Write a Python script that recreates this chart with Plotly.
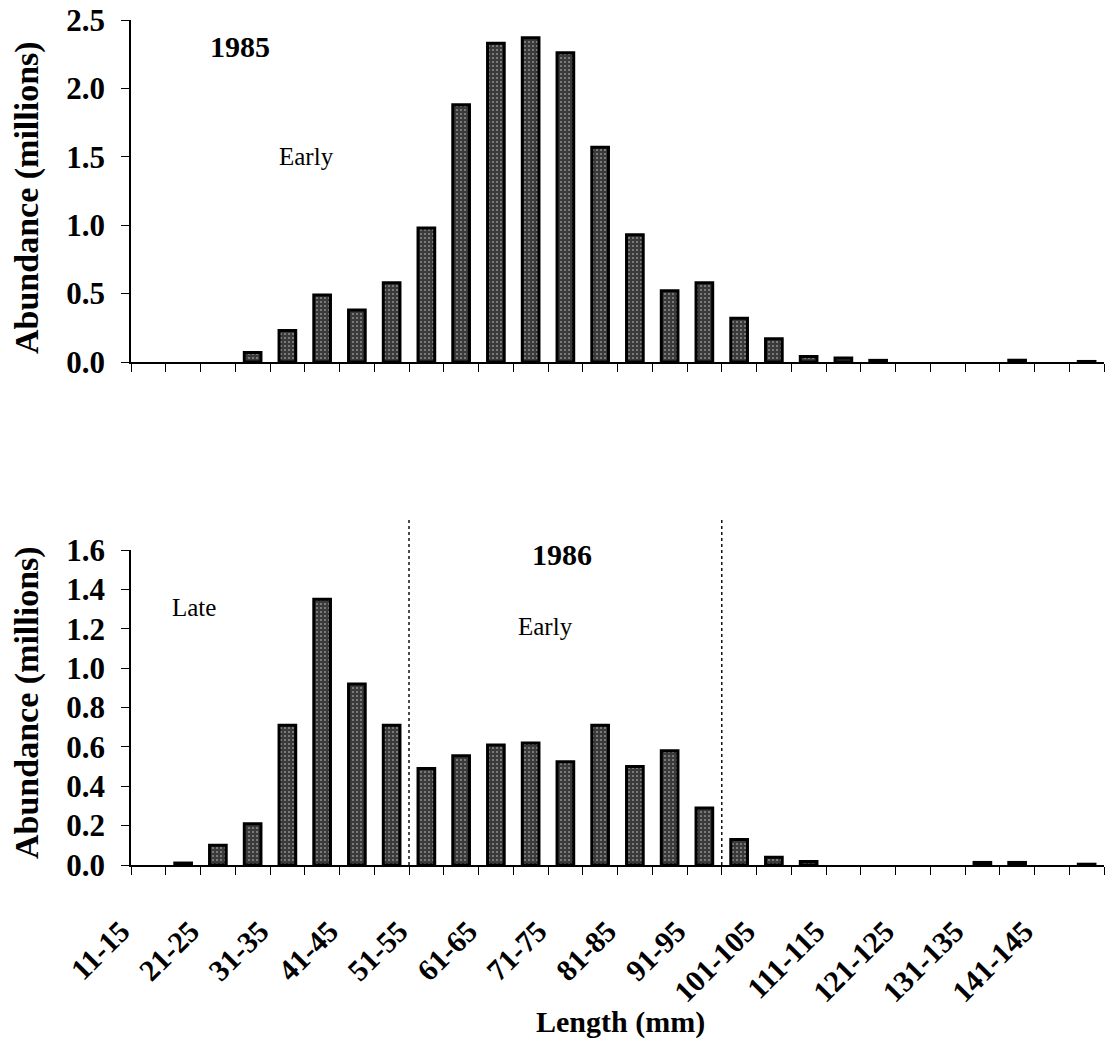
import plotly.graph_objects as go

# ---------------- data ----------------
categories = ["11-15", "16-20", "21-25", "26-30", "31-35", "36-40", "41-45", "46-50",
              "51-55", "56-60", "61-65", "66-70", "71-75", "76-80", "81-85", "86-90",
              "91-95", "96-100", "101-105", "106-110", "111-115", "116-120", "121-125",
              "126-130", "131-135", "136-140", "141-145", "146-150"]

abundance_1985 = [0.0, 0.0, 0.0, 0.07, 0.23, 0.49, 0.38, 0.58, 0.98, 1.88, 2.33, 2.37,
                  2.26, 1.57, 0.93, 0.52, 0.58, 0.32, 0.17, 0.04, 0.03, 0.012, 0.0,
                  0.0, 0.0, 0.013, 0.0, 0.004]

abundance_1986 = [0.0, 0.01, 0.10, 0.21, 0.71, 1.35, 0.92, 0.71, 0.49, 0.555, 0.61, 0.62,
                  0.525, 0.71, 0.50, 0.58, 0.29, 0.13, 0.04, 0.018, 0.0, 0.0, 0.0,
                  0.0, 0.013, 0.013, 0.0, 0.004]

y_ticks_1985 = [0.0, 0.5, 1.0, 1.5, 2.0, 2.5]
y_ticks_1986 = [0.0, 0.2, 0.4, 0.6, 0.8, 1.0, 1.2, 1.4, 1.6]

# cohort boundaries in 1986 (between 46-50 / 51-55 and 91-95 / 96-100)
divider_after = ["46-50", "91-95"]

# ---------------- layout geometry ----------------
W, H = 1105, 1055
L, R, T, B = 131, 1104, 20, 865   # plot area in pixels


def px(xp):
    return (xp - L) / (R - L)


def py(yp):
    return (B - yp) / (B - T)


SERIF = "Liberation Serif, Times New Roman, serif"
idx = list(range(len(categories)))
tickvals = [i - 0.5 for i in range(len(categories) + 1)]
ticktext = [categories[i] if (i < len(categories) and i % 2 == 0) else "" for i in range(len(categories) + 1)]


def bar_style(values):
    return dict(
        color="#3a3a3a",
        line=dict(color="black", width=[3 if v > 0 else 0 for v in values]),
        pattern=dict(shape=".", fgcolor="#d6d6d6", bgcolor="#3a3a3a", size=4, solidity=0.22),
    )


fig = go.Figure()
fig.add_trace(go.Bar(x=idx, y=abundance_1985, width=0.48, marker=bar_style(abundance_1985),
                     customdata=categories, hovertemplate="%{customdata}: %{y}<extra>1985</extra>",
                     xaxis="x", yaxis="y"))
fig.add_trace(go.Bar(x=idx, y=abundance_1986, width=0.48, marker=bar_style(abundance_1986),
                     customdata=categories, hovertemplate="%{customdata}: %{y}<extra>1986</extra>",
                     xaxis="x2", yaxis="y2"))

axis_common = dict(showline=True, linecolor="black", linewidth=1.5, ticks="outside",
                   ticklen=8, tickcolor="black", tickwidth=1, showgrid=False, zeroline=False)

top_domain = [py(362), 1.0]
bot_domain = [0.0, py(550)]

fig.update_layout(
    width=W, height=H,
    margin=dict(l=L, r=W - R, t=T, b=H - B, pad=0),
    paper_bgcolor="white", plot_bgcolor="white",
    showlegend=False, barmode="overlay",
    xaxis=dict(domain=[0, 1], anchor="y", range=[-0.5, len(categories) - 0.5],
               tickmode="array", tickvals=tickvals, ticktext=[""] * len(tickvals),
               showticklabels=False, **axis_common),
    yaxis=dict(domain=top_domain, anchor="x", range=[0, 2.5], tickmode="array",
               tickvals=y_ticks_1985, tickformat=".1f", ticklabelstandoff=10,
               tickfont=dict(family=SERIF, size=31, color="black", weight="bold"),
               **axis_common),
    xaxis2=dict(domain=[0, 1], anchor="y2", range=[-0.5, len(categories) - 0.5],
                tickmode="array", tickvals=tickvals, ticktext=ticktext, tickangle=-45,
                ticklabelstandoff=27, ticklabelshift=-10,
                tickfont=dict(family=SERIF, size=30, color="black", weight="bold"),
                **axis_common),
    yaxis2=dict(domain=bot_domain, anchor="x2", range=[0, 1.6], tickmode="array",
                tickvals=y_ticks_1986, tickformat=".1f", ticklabelstandoff=10,
                tickfont=dict(family=SERIF, size=31, color="black", weight="bold"),
                **axis_common),
)

# dotted dividers in 1986 panel
for c in divider_after:
    xpos = categories.index(c) + 0.5
    fig.add_shape(type="line", xref="x2", yref="y2 domain", x0=xpos, x1=xpos,
                  y0=0, y1=(B - 520) / (B - 550),
                  line=dict(color="#111", width=1.5, dash="dot"))

ann = []
# y-axis titles
for yc in (198, 703):
    ann.append(dict(text="Abundance (millions)", xref="paper", yref="paper",
                    x=px(27), y=py(yc), textangle=-90,
                    showarrow=False, xanchor="center", yanchor="middle",
                    font=dict(family=SERIF, size=34, color="black", weight="bold")))
ann.append(dict(text="Length (mm)", xref="paper", yref="paper", x=px(620), y=py(1022),
                showarrow=False, xanchor="center", yanchor="middle",
                font=dict(family=SERIF, size=30, color="black", weight="bold")))
ann.append(dict(text="1985", xref="paper", yref="paper", x=px(240), y=py(47),
                showarrow=False, xanchor="center", yanchor="middle",
                font=dict(family=SERIF, size=30, color="black", weight="bold")))
ann.append(dict(text="Early", xref="paper", yref="paper", x=px(306), y=py(157),
                showarrow=False, xanchor="center", yanchor="middle",
                font=dict(family=SERIF, size=25, color="black")))
ann.append(dict(text="1986", xref="paper", yref="paper", x=px(562), y=py(554),
                showarrow=False, xanchor="center", yanchor="middle",
                font=dict(family=SERIF, size=30, color="black", weight="bold")))
ann.append(dict(text="Early", xref="paper", yref="paper", x=px(545), y=py(626),
                showarrow=False, xanchor="center", yanchor="middle",
                font=dict(family=SERIF, size=25, color="black")))
ann.append(dict(text="Late", xref="paper", yref="paper", x=px(194), y=py(607),
                showarrow=False, xanchor="center", yanchor="middle",
                font=dict(family=SERIF, size=25, color="black")))
fig.update_layout(annotations=ann)

fig.write_html("out.html")
